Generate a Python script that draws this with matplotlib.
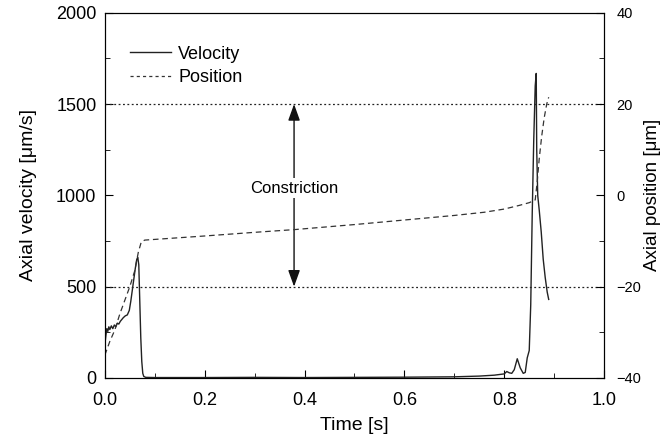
import numpy as np
import matplotlib.pyplot as plt
from matplotlib.ticker import MultipleLocator
from matplotlib.lines import Line2D

plt.rcParams['font.family'] = ['Liberation Sans', 'DejaVu Sans']

# ------------------------------------------------------------------
# Data
# ------------------------------------------------------------------
vel_time = [0.000, 0.002, 0.004, 0.006, 0.008, 0.010, 0.013, 0.016, 0.019,
            0.022, 0.025, 0.028, 0.031, 0.034, 0.037, 0.041, 0.045, 0.049,
            0.052, 0.055, 0.058, 0.061, 0.064, 0.066, 0.068, 0.070, 0.072,
            0.074, 0.076, 0.078, 0.082, 0.10, 0.20, 0.30, 0.40, 0.50, 0.60,
            0.70, 0.75, 0.78, 0.80, 0.805, 0.81, 0.815, 0.82, 0.826, 0.832,
            0.838, 0.842, 0.846, 0.850, 0.853, 0.856, 0.859, 0.862, 0.864,
            0.865, 0.867, 0.870, 0.874, 0.878, 0.882, 0.886, 0.889]
velocity = [180, 230, 270, 255, 280, 265, 285, 270, 290, 280, 300, 295, 310,
            320, 330, 340, 345, 370, 420, 480, 540, 600, 650, 660, 620, 420,
            220, 90, 25, 8, 3, 2, 2, 3, 2, 3, 4, 6, 10, 15, 22, 35, 28, 25,
            45, 105, 55, 25, 30, 110, 150, 400, 900, 1300, 1600, 1668, 1250,
            1000, 920, 800, 650, 550, 470, 430]

pos_time = [0.000, 0.010, 0.020, 0.030, 0.040, 0.050, 0.060, 0.067, 0.073,
            0.080, 0.20, 0.30, 0.38, 0.50, 0.60, 0.70, 0.76, 0.80, 0.83,
            0.85, 0.862, 0.866, 0.870, 0.875, 0.880, 0.885, 0.889]
position = [-35, -32, -29.5, -26, -23, -20, -16.5, -12.5, -10.2, -9.8, -8.9,
            -8.1, -7.5, -6.4, -5.4, -4.4, -3.7, -3.0, -2.2, -1.6, -1.0, 3, 8,
            13, 17, 20, 21.5]

constriction_bounds = [500, 1500]   # axial velocity units (= -20 / 20 um)

# ------------------------------------------------------------------ plotting
fig = plt.figure(figsize=(6.72, 4.42), dpi=100)
ax = fig.add_axes([0.156, 0.145, 0.743, 0.826])
ax2 = ax.twinx()

ax.plot(vel_time, velocity, color='#222222', lw=1.0)
ax2.plot(pos_time, position, color='#333333', lw=0.9, linestyle=(0, (4.5, 3)))

for yv in constriction_bounds:
    ax.axhline(yv, color='#222222', lw=0.9, linestyle=(0, (1.5, 2)))

ax.annotate('', xy=(0.379, constriction_bounds[1]), xytext=(0.379, constriction_bounds[0]),
            arrowprops=dict(arrowstyle='<|-|>,head_length=0.5,head_width=0.18',
                            color='#111111', lw=1.0, mutation_scale=20,
                            shrinkA=0, shrinkB=0))
ax.text(0.38, 1040, 'Constriction', ha='center', va='center', fontsize=12,
        bbox=dict(facecolor='white', edgecolor='none', pad=2))

ax.set_xlim(0, 1.0)
ax.set_ylim(0, 2000)
ax2.set_ylim(-40, 40)

ax.xaxis.set_major_locator(MultipleLocator(0.2))
ax.xaxis.set_minor_locator(MultipleLocator(0.1))
ax.yaxis.set_major_locator(MultipleLocator(500))
ax.yaxis.set_minor_locator(MultipleLocator(250))
ax2.yaxis.set_major_locator(MultipleLocator(20))
ax2.yaxis.set_minor_locator(MultipleLocator(10))
ax.xaxis.set_major_formatter(plt.FuncFormatter(lambda v, p: f"{v:.1f}"))

ax.tick_params(axis='both', which='both', direction='in', labelsize=13)
ax.tick_params(which='major', length=6)
ax.tick_params(which='minor', length=3.5)
ax.tick_params(axis='x', which='major', pad=10)
ax.tick_params(axis='y', right=False, pad=6)
ax2.tick_params(axis='y', which='both', direction='in', labelsize=10.5)
ax2.tick_params(which='major', length=6, pad=9)
ax2.tick_params(which='minor', length=3.5)

ax.set_xlabel('Time [s]', fontsize=14, labelpad=6)
ax.set_ylabel('Axial velocity [\u03bcm/s]', fontsize=14, labelpad=14)
ax2.set_ylabel('Axial position [\u03bcm]', fontsize=13.5, labelpad=2)

handles = [Line2D([], [], color='#222222', lw=1.0),
           Line2D([], [], color='#333333', lw=0.9, linestyle=(0, (2.5, 2.5)))]
ax.legend(handles, ['Velocity', 'Position'], loc='upper left',
          bbox_to_anchor=(0.035, 0.93), frameon=False, fontsize=13,
          handlelength=2.3, handletextpad=0.4, labelspacing=0.35,
          borderaxespad=0)

fig.savefig('out.png', dpi=100)
